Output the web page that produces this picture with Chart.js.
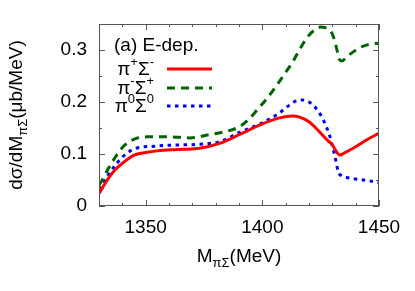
<!DOCTYPE html>
<html>
<head>
<meta charset="utf-8">
<script src="https://cdn.jsdelivr.net/npm/chart.js@4/dist/chart.umd.min.js"></script>
<style>
  html, body { margin: 0; padding: 0; background: #fff; }
  #wrap { width: 415px; height: 291px; }
</style>
</head>
<body>
<div id="wrap"><canvas id="chart" width="415" height="291"></canvas></div>
<script>
// pi+ Sigma-
const redX = [1330, 1334, 1337, 1340, 1345, 1350, 1355, 1361, 1366, 1373, 1382, 1390, 1399, 1407, 1413, 1416, 1420, 1424, 1428, 1430, 1431, 1432, 1433, 1434, 1436, 1440, 1445, 1450];
const redY = [0.024, 0.053, 0.070, 0.082, 0.098, 0.103, 0.106, 0.108, 0.109, 0.111, 0.121, 0.137, 0.156, 0.169, 0.173, 0.171, 0.162, 0.145, 0.126, 0.118, 0.110, 0.103, 0.098, 0.099, 0.104, 0.114, 0.128, 0.140];
// pi- Sigma+
const greenX = [1330, 1331, 1334, 1337.6, 1341, 1346, 1351, 1360, 1369, 1377, 1383, 1390, 1394.5, 1398, 1402, 1406, 1410, 1413, 1416, 1419, 1422, 1425, 1427, 1429.5, 1431, 1432, 1433, 1434, 1437, 1442, 1446, 1450];
const greenY = [0.040, 0.047, 0.072, 0.098, 0.117, 0.130, 0.133, 0.133, 0.131, 0.137, 0.142, 0.152, 0.168, 0.186, 0.207, 0.231, 0.257, 0.277, 0.301, 0.323, 0.337, 0.344, 0.343, 0.335, 0.318, 0.300, 0.282, 0.279, 0.290, 0.305, 0.311, 0.313];
// pi0 Sigma0
const blueX = [1330, 1334, 1337.6, 1341.8, 1346, 1354, 1361, 1370, 1377, 1382, 1390, 1400, 1407, 1411.6, 1414, 1417, 1420, 1423, 1425, 1427, 1429, 1430, 1431, 1431.7, 1432.5, 1434, 1437, 1440, 1445, 1450];
const blueY = [0.032, 0.060, 0.082, 0.101, 0.111, 0.115, 0.117, 0.118, 0.120, 0.124, 0.141, 0.160, 0.178, 0.194, 0.201, 0.204, 0.200, 0.188, 0.175, 0.157, 0.133, 0.115, 0.098, 0.083, 0.066, 0.058, 0.054, 0.052, 0.049, 0.045];

const xTicks = [1350, 1400, 1450];
const yTicks = [0, 0.1, 0.2, 0.3];

const FONT = '"Liberation Sans", Arial, sans-serif';

function pts(xs, ys) {
    return xs.map((x, i) => ({ x: x, y: ys[i] }));
}

const series = [
    { name: ['π', '+', 'Σ', '-'], x: redX, y: redY, color: '#ff0000', dash: [] },
    { name: ['π', '-', 'Σ', '+'], x: greenX, y: greenY, color: '#006400', dash: [8, 6] },
    { name: ['π', '0', 'Σ', '0'], x: blueX, y: blueY, color: '#0000ff', dash: [3.5, 4.5] }
];

// draws text runs (normal / small raised or lowered), returns width
function richText(ctx, parts, x, y, measureOnly) {
    let cx = x;
    parts.forEach(p => {
        ctx.font = (p.small ? '13px ' : '19px ') + FONT;
        const w = ctx.measureText(p.t).width;
        if (!measureOnly) ctx.fillText(p.t, cx, y + (p.dy || 0));
        cx += w;
    });
    return cx - x;
}

const framePlugin = {
    id: 'frame',
    afterDraw(chart) {
        const ctx = chart.ctx;
        const a = chart.chartArea;
        const xs = chart.scales.x, ys = chart.scales.y;
        ctx.save();
        ctx.strokeStyle = '#555';
        ctx.lineWidth = 1;
        ctx.setLineDash([]);
        ctx.strokeRect(a.left + 0.5, a.top + 0.5, a.right - a.left - 1, a.bottom - a.top - 1);
        ctx.beginPath();
        for (let v = 1330; v <= 1450; v += 10) {
            const px = Math.round(xs.getPixelForValue(v)) + 0.5;
            const len = v % 50 === 0 ? 6 : 3;
            ctx.moveTo(px, a.bottom); ctx.lineTo(px, a.bottom - len);
            ctx.moveTo(px, a.top); ctx.lineTo(px, a.top + len);
        }
        for (let i = 0; i <= 7; i++) {
            const v = i * 0.05;
            const py = Math.round(ys.getPixelForValue(v)) + 0.5;
            const len = i % 2 === 0 ? 6 : 3;
            ctx.moveTo(a.left, py); ctx.lineTo(a.left + len, py);
            ctx.moveTo(a.right, py); ctx.lineTo(a.right - len, py);
        }
        ctx.stroke();

        // axis titles
        ctx.fillStyle = '#000';
        ctx.textBaseline = 'alphabetic';
        ctx.textAlign = 'left';
        const xt = [{ t: 'M' }, { t: 'πΣ', small: true, dy: 5 }, { t: '(MeV)' }];
        const xw = richText(ctx, xt, 0, 0, true);
        richText(ctx, xt, (a.left + a.right) / 2 - xw / 2, 262);

        const yt = [{ t: 'dσ/dM' }, { t: 'πΣ', small: true, dy: 5 }, { t: '(μb/MeV)' }];
        const yw = richText(ctx, yt, 0, 0, true);
        ctx.translate(22, (a.top + a.bottom) / 2);
        ctx.rotate(-Math.PI / 2);
        richText(ctx, yt, -yw / 2, 0);
        ctx.restore();

        // legend
        ctx.save();
        ctx.fillStyle = '#000';
        ctx.textBaseline = 'alphabetic';
        ctx.font = '19px ' + FONT;
        ctx.fillText('(a) E-dep.', 114, 51);
        const rows = [69, 88, 106];
        series.forEach((s, i) => {
            const parts = [{ t: s.name[0] }, { t: s.name[1], small: true, dy: -9 }, { t: s.name[2] }, { t: s.name[3], small: true, dy: -9 }];
            const w = richText(ctx, parts, 0, 0, true);
            richText(ctx, parts, 154 - w, rows[i] + 6);
            ctx.strokeStyle = s.color;
            ctx.lineWidth = 3;
            ctx.setLineDash(s.dash);
            ctx.beginPath();
            ctx.moveTo(167, rows[i]);
            ctx.lineTo(212, rows[i]);
            ctx.stroke();
        });
        ctx.restore();
    }
};

new Chart(document.getElementById('chart'), {
    type: 'line',
    data: {
        datasets: series.map(s => ({
            data: pts(s.x, s.y),
            borderColor: s.color,
            borderWidth: 3,
            borderDash: s.dash,
            pointRadius: 0,
            fill: false,
            cubicInterpolationMode: 'monotone'
        }))
    },
    options: {
        responsive: false,
        animation: false,
        layout: { padding: { left: 0, right: 36, top: 24, bottom: 0 } },
        plugins: { legend: { display: false }, tooltip: { enabled: false } },
        scales: {
            x: {
                type: 'linear',
                min: 1330,
                max: 1450,
                grid: { display: false, drawTicks: false },
                border: { display: false },
                afterBuildTicks: s => { s.ticks = xTicks.map(v => ({ value: v })); },
                afterFit: s => { s.height = 85; },
                ticks: {
                    color: '#000',
                    font: { family: FONT, size: 19 },
                    padding: 10,
                    maxRotation: 0,
                    callback: v => String(v)
                }
            },
            y: {
                min: 0,
                max: 0.35,
                grid: { display: false, drawTicks: false },
                border: { display: false },
                afterBuildTicks: s => { s.ticks = yTicks.map(v => ({ value: v })); },
                afterFit: s => { s.width = 99; },
                ticks: {
                    color: '#000',
                    font: { family: FONT, size: 19 },
                    padding: 12,
                    callback: v => v === 0 ? '0' : v.toFixed(1)
                }
            }
        }
    },
    plugins: [framePlugin]
});
</script>
</body>
</html>
